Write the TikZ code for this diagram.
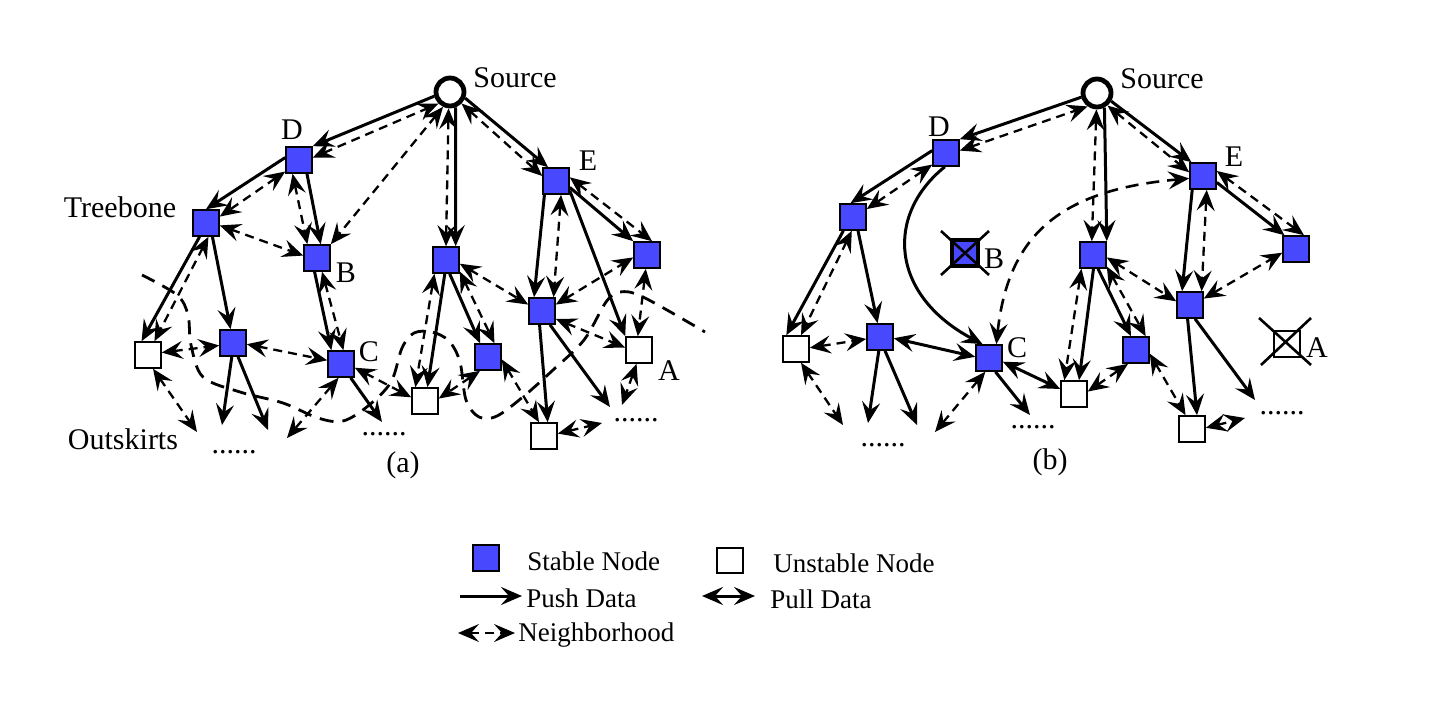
\documentclass[tikz,border=0pt]{standalone}
\usepackage{fontspec}
\setmainfont{Liberation Serif}
\usetikzlibrary{arrows.meta}
\definecolor{stableblue}{RGB}{72,72,255}
\begin{document}
\begin{tikzpicture}[x=0.5pt,y=-0.5pt,
  >={Stealth[length=10.5pt,width=9pt,inset=4pt]},
  stable/.style={draw, line width=1pt, fill=stableblue, minimum size=12.8pt, inner sep=0pt},
  unstable/.style={draw, line width=1pt, fill=white, minimum size=12.8pt, inner sep=0pt},
  src/.style={circle, draw, line width=2.4pt, fill=white, minimum size=14pt, inner sep=0pt},
  push/.style={line width=1.5pt, ->},
  pull/.style={line width=1.5pt, <->},
  nbr/.style={line width=1.15pt, dash pattern=on 4.5pt off 3pt, <->},
  nbrbig/.style={line width=1.3pt, dash pattern=on 6.5pt off 4pt, <->},
  bound/.style={line width=1.4pt, dash pattern=on 7pt off 4.5pt},
  crossline/.style={line width=1.3pt},
  lbl/.style={font=\fontsize{15}{18}\selectfont, inner sep=0pt},
  leg/.style={font=\fontsize{13.5}{16}\selectfont, inner sep=0pt}]
\useasboundingbox (0,0) rectangle (1440,706);
\fill[white] (0,0) rectangle (1440,706);

% ================= (a) =================
\draw[bound] plot[smooth, tension=0.55] coordinates {(142,275) (177,295) (188,315) (191,345) (203,377) (240,392) (283,403) (318,418) (343,421) (368,406) (391,382) (402,348) (414,333) (432,332) (449,341) (460,362) (466,400) (479,417) (497,416) (524,396) (553,370) (584,340) (606,302) (620,292) (643,297) (705,332)};

\node[src] (S1) at (450,92) {};
\node[stable] (D1) at (299,160) {};
\node[stable] (T1) at (206,223) {};
\node[stable] (B1) at (317,258) {};
\node[stable] (M1) at (446,260) {};
\node[stable] (E1) at (556,181) {};
\node[stable] (R1) at (647,255) {};
\node[unstable] (U1) at (148,355) {};
\node[stable] (N1) at (233,343) {};
\node[stable] (C1) at (341,364) {};
\node[unstable] (V1) at (425,401) {};
\node[stable] (K1) at (488,357) {};
\node[stable] (G1) at (542,311) {};
\node[unstable] (A1) at (639,350) {};
\node[unstable] (W1) at (544,436) {};

\node[lbl] (lS1) at (515,78) {Source};
\node[lbl] (lD1) at (292,130) {D};
\node[lbl] (lT1) at (120,207) {Treebone};
\node[lbl] (lB1) at (346,273) {B};
\node[lbl] (lC1) at (369,352) {C};
\node[lbl] (lE1) at (588,161) {E};
\node[lbl] (lA1) at (669,371) {A};
\node[lbl] (lO1) at (123,439) {Outskirts};
\node[lbl] (la) at (403,465) {(a)};
\node[lbl, anchor=base] (dA1) at (234,453) {......};
\node[lbl, anchor=base] (dA2) at (384,435) {......};
\node[lbl, anchor=base] (dA3) at (636,421.5) {......};

\coordinate (a1) at (222,425);
\coordinate (a2) at (268,430);
\coordinate (a3) at (382,422);
\coordinate (a4) at (197,432);
\coordinate (a5) at (622,405);
\coordinate (a6) at (602,423);
\coordinate (a7) at (610,407);
\coordinate (a8) at (287,438);

\draw[push] (S1.195) -- (D1.north east);
\draw[nbr] (D1.10) -- (S1.225);
\draw[push] (D1.170) -- (T1.north);
\draw[nbr] (D1.-140) -- (T1.25);
\draw[push] (D1.-60) -- (B1.75);
\draw[nbr] (D1.-115) -- (B1.125);
\draw[nbr] (S1.245) -- (B1.45);
\draw[push] (S1.-70) -- (M1.55);
\draw[nbr] (S1.-95) -- (M1.north);
\draw[push] (S1.-22) -- (E1.120);
\draw[nbr] (S1.-45) -- (E1.160);
\draw[push] (E1.-25) -- (R1.135);
\draw[nbr] (E1.15) -- (R1.70);
\draw[push] (T1.-115) -- (U1.115);
\draw[nbr] (T1.-80) -- (U1.65);
\draw[push] (T1.-65) -- (N1.100);
\draw[nbr] (T1.-10) -- (B1.170);
\draw[push] (B1.-100) -- (C1.125);
\draw[nbr] (B1.-70) -- (C1.80);
\draw[push] (M1.-95) -- (V1.80);
\draw[nbr] (M1.-130) -- (V1.125);
\draw[push] (M1.-75) -- (K1.120);
\draw[nbr] (M1.-40) -- (K1.65);
\draw[nbr] (M1.-15) -- (G1.155);
\draw[nbr] (K1.-120) -- (V1.10);
\draw[nbr] (K1.-10) -- (W1.110);
\draw[nbr] (E1.-70) -- (G1.50);
\draw[push] (E1.-130) -- (G1.120);
\draw[push] (E1.-35) -- (A1.north west);
\draw[nbr] (G1.25) -- (R1.-170);
\draw[nbr] (G1.-30) -- (A1.170);
\draw[nbr] (R1.-95) -- (A1.95);
\draw[nbr] (A1.-100) -- (a5);
\draw[nbr] (W1.10) -- (a6);
\draw[push] (G1.-100) -- (W1.75);
\draw[push] (G1.-60) -- (a7);
\draw[push] (N1.-95) -- (a1);
\draw[push] (N1.-70) -- (a2);
\draw[push] (C1.-55) -- (a3);
\draw[nbr] (U1.10) -- (N1.-170);
\draw[nbr] (N1.-5) -- (C1.165);
\draw[nbr] (U1.-70) -- (a4);
\draw[nbr] (C1.-100) -- (a8);
\draw[nbr] (C1.-15) -- (V1.165);

% ================= (b) =================
\node[src] (S2) at (1097,93) {};
\node[stable] (D2) at (946,153) {};
\node[stable] (T2) at (853,217) {};
\node[stable, line width=2pt, minimum size=13pt] (XB) at (965,253) {};
\node[stable] (M2) at (1093,255) {};
\node[stable] (E2) at (1203,176) {};
\node[stable] (R2) at (1296,249) {};
\node[unstable] (U2) at (796,349) {};
\node[stable] (N2) at (880,337) {};
\node[stable] (C2) at (989,358) {};
\node[unstable] (V2) at (1074,394) {};
\node[stable] (K2) at (1136,350) {};
\node[stable] (G2) at (1190,305) {};
\node[unstable] (XA) at (1287,344) {};
\node[unstable] (W2) at (1192,429) {};

\draw[crossline] ([shift={(-24,-22)}]XB.center) -- ([shift={(24,22)}]XB.center);
\draw[crossline] ([shift={(24,-22)}]XB.center) -- ([shift={(-24,22)}]XB.center);
\draw[crossline] ([shift={(-28,-26)}]XA.center) -- ([shift={(24,21)}]XA.center);
\draw[crossline] ([shift={(24,-26)}]XA.center) -- ([shift={(-26,21)}]XA.center);

\node[lbl] (lS2) at (1162,79) {Source};
\node[lbl] (lD2) at (939,127) {D};
\node[lbl] (lB2) at (994,259) {B};
\node[lbl] (lC2) at (1017,348) {C};
\node[lbl] (lE2) at (1234,157) {E};
\node[lbl] (lA2) at (1317,348) {A};
\node[lbl] (lb) at (1050,462) {(b)};
\node[lbl, anchor=base] (dB1) at (883,446.5) {......};
\node[lbl, anchor=base] (dB2) at (1033,428) {......};
\node[lbl, anchor=base] (dB3) at (1282,414.5) {......};

\coordinate (b1) at (843,425);
\coordinate (b2) at (868,423);
\coordinate (b3) at (917,425);
\coordinate (b4) at (1030,415);
\coordinate (b5) at (935,432);
\coordinate (b6) at (1255,400);
\coordinate (b7) at (1245,418);

\draw[push] (S2.195) -- (D2.north east);
\draw[nbr] (D2.10) -- (S2.235);
\draw[push] (D2.170) -- (T2.100);
\draw[nbr] (D2.-140) -- (T2.30);
\draw[push] (D2.-95) .. controls (885,215) and (890,295) .. (C2.115);
\draw[push] (S2.-63) -- (M2.45);
\draw[nbr] (S2.-92) -- (M2.95);
\draw[push] (S2.-30) -- (E2.130);
\draw[nbr] (S2.-50) -- (E2.165);
\draw[push] (E2.-25) -- (R2.130);
\draw[nbr] (E2.20) -- (R2.60);
\draw[nbrbig] (C2.62) .. controls (1008,235) and (1060,190) .. (E2.-170);
\draw[push] (T2.-125) -- (U2.125);
\draw[nbr] (T2.-95) -- (U2.70);
\draw[push] (T2.-70) -- (N2.100);
\draw[nbr] (U2.5) -- (N2.-172);
\draw[nbr] (U2.-70) -- (b1);
\draw[push] (N2.-95) -- (b2);
\draw[push] (N2.-70) -- (b3);
\draw[pull] (N2.-5) -- (C2.175);
\draw[pull] (C2.-15) -- (V2.160);
\draw[push] (C2.-65) -- (b4);
\draw[nbr] (C2.-105) -- (b5);
\draw[push] (M2.-88) -- (V2.70);
\draw[nbr] (M2.-130) -- (V2.125);
\draw[nbr] (V2.10) -- (K2.-120);
\draw[push] (M2.-70) -- (K2.110);
\draw[nbr] (M2.-40) -- (K2.55);
\draw[nbr] (M2.-10) -- (G2.165);
\draw[nbr] (E2.-75) -- (G2.50);
\draw[push] (E2.-128) -- (G2.120);
\draw[nbr] (G2.25) -- (R2.-165);
\draw[nbr] (K2.-15) -- (W2.115);
\draw[push] (G2.-100) -- (W2.70);
\draw[push] (G2.-70) -- (b6);
\draw[nbr] (W2.5) -- (b7);

% ================= legend =================
\node[stable] (LS) at (486,558) {};
\node[leg, anchor=base west] (LSt) at (527,570) {Stable Node};
\node[unstable] (LU) at (730,560.5) {};
\node[leg, anchor=base west] (LUt) at (773,572) {Unstable Node};
\coordinate (p1) at (460,596);
\coordinate (p2) at (522,596);
\draw[push] (p1) -- (p2);
\node[leg, anchor=base west] (LPt) at (526,607) {Push Data};
\coordinate (q1) at (702,596);
\coordinate (q2) at (755,596);
\draw[pull] (q1) -- (q2);
\node[leg, anchor=base west] (LQt) at (770,608) {Pull Data};
\coordinate (n1) at (458,633);
\coordinate (n2) at (515,633);
\draw[nbr] (n1) -- (n2);
\node[leg, anchor=base west] (LNt) at (518,641) {Neighborhood};
\end{tikzpicture}
\end{document}
